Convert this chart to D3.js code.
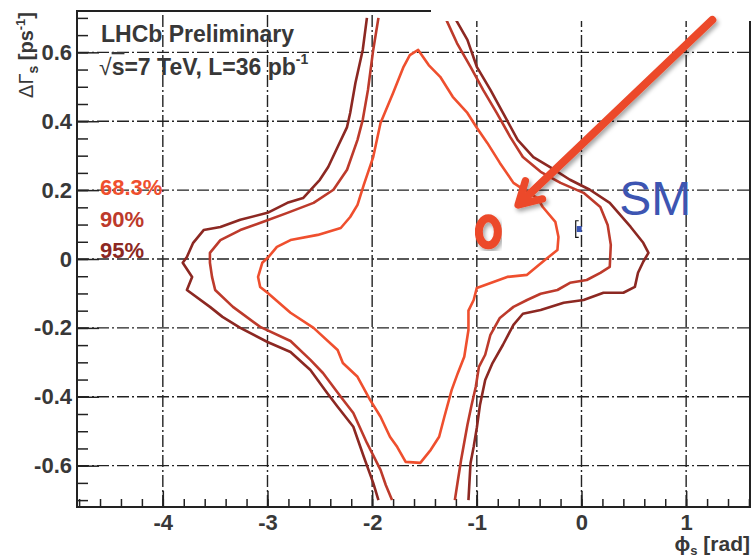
<!doctype html>
<html>
<head>
<meta charset="utf-8">
<script src="https://d3js.org/d3.v7.min.js"></script>
<style>
body { margin: 0; background: #fff; }
text { font-family: "Liberation Sans", Arial, Helvetica, sans-serif; }
</style>
</head>
<body>
<div id="chart"></div>
<script>

var width = 753;
var height = 557;

// axis ticks
var phiTicks = [-4, -3, -2, -1, 0, 1];
var dgTicks = [-0.6, -0.4, -0.2, 0, 0.2, 0.4, 0.6];

// contour levels
var levels = ["68.3%", "90%", "95%"];
var levelColors = ["#ef4f2e", "#bd3a2b", "#8c2822"];

// 68.3% contour (closed)
var c68 = [
  [-1.56, 0.607], [-1.46, 0.563], [-1.35, 0.529], [-1.23, 0.471], [-1.09, 0.424],
  [-1.00, 0.381], [-0.90, 0.337], [-0.78, 0.279], [-0.65, 0.221], [-0.52, 0.195],
  [-0.42, 0.177], [-0.37, 0.151], [-0.25, 0.108], [-0.22, 0.064], [-0.23, 0.026],
  [-0.35, -0.003], [-0.52, -0.046], [-0.71, -0.052], [-1.00, -0.084], [-1.03, -0.119],
  [-1.08, -0.150], [-1.08, -0.206], [-1.12, -0.284], [-1.18, -0.330], [-1.24, -0.380],
  [-1.31, -0.458], [-1.36, -0.516], [-1.44, -0.554], [-1.54, -0.592], [-1.68, -0.589],
  [-1.76, -0.546], [-1.83, -0.516], [-1.92, -0.458], [-2.02, -0.409], [-2.14, -0.342],
  [-2.28, -0.302], [-2.33, -0.264], [-2.56, -0.200], [-2.78, -0.156], [-3.00, -0.098],
  [-3.07, -0.081], [-3.09, -0.052], [-3.05, -0.011], [-2.99, 0.006], [-2.91, 0.035],
  [-2.78, 0.055], [-2.52, 0.070], [-2.30, 0.090], [-2.21, 0.122], [-2.14, 0.157],
  [-2.08, 0.215], [-1.99, 0.296], [-1.92, 0.395], [-1.80, 0.482], [-1.70, 0.558],
  [-1.64, 0.592]
];

// 90% contour, two open branches
var c90Left = [
  [-1.94, 0.70], [-1.99, 0.607], [-2.04, 0.491], [-2.09, 0.404], [-2.14, 0.346],
  [-2.24, 0.259], [-2.37, 0.201], [-2.56, 0.163], [-2.81, 0.134], [-3.04, 0.108],
  [-3.26, 0.084], [-3.45, 0.055], [-3.55, 0.018], [-3.55, -0.011], [-3.53, -0.052],
  [-3.50, -0.090], [-3.33, -0.139], [-3.07, -0.197], [-2.78, -0.238], [-2.59, -0.293],
  [-2.47, -0.331], [-2.30, -0.400], [-2.18, -0.447], [-2.05, -0.534], [-1.92, -0.612],
  [-1.87, -0.656], [-1.81, -0.70]
];
var c90Right = [
  [-1.30, 0.70], [-1.19, 0.627], [-1.06, 0.558], [-0.94, 0.491], [-0.81, 0.424],
  [-0.68, 0.354], [-0.56, 0.296], [-0.39, 0.253], [-0.20, 0.221], [0.02, 0.192],
  [0.18, 0.151], [0.25, 0.099], [0.28, 0.041], [0.27, -0.023], [0.18, -0.040],
  [0.05, -0.061], [-0.11, -0.069], [-0.23, -0.090], [-0.39, -0.101], [-0.52, -0.119],
  [-0.65, -0.139], [-0.78, -0.171], [-0.87, -0.220], [-0.92, -0.278], [-0.98, -0.313],
  [-1.01, -0.371], [-1.05, -0.424], [-1.09, -0.482], [-1.15, -0.583], [-1.18, -0.641],
  [-1.21, -0.70]
];

// 95% contour, two open branches
var c95Left = [
  [-2.05, 0.70], [-2.09, 0.607], [-2.16, 0.511], [-2.21, 0.424], [-2.24, 0.383],
  [-2.33, 0.325], [-2.42, 0.267], [-2.50, 0.230], [-2.66, 0.177], [-2.81, 0.163],
  [-3.00, 0.134], [-3.26, 0.114], [-3.45, 0.093], [-3.61, 0.084], [-3.71, 0.047],
  [-3.77, 0.006], [-3.81, -0.011], [-3.72, -0.052], [-3.77, -0.090], [-3.55, -0.139],
  [-3.43, -0.168], [-3.26, -0.200], [-3.00, -0.241], [-2.78, -0.270], [-2.59, -0.322],
  [-2.43, -0.389], [-2.33, -0.429], [-2.18, -0.487], [-2.08, -0.574], [-1.99, -0.650],
  [-1.94, -0.70]
];
var c95Right = [
  [-1.21, 0.70], [-1.09, 0.636], [-1.00, 0.558], [-0.87, 0.491], [-0.75, 0.424],
  [-0.61, 0.346], [-0.46, 0.296], [-0.30, 0.267], [-0.11, 0.230], [0.08, 0.201],
  [0.27, 0.163], [0.47, 0.093], [0.59, 0.047], [0.64, 0.018], [0.59, -0.008],
  [0.54, -0.040], [0.51, -0.081], [0.40, -0.098], [0.21, -0.098], [0.02, -0.119],
  [-0.17, -0.127], [-0.39, -0.148], [-0.56, -0.159], [-0.65, -0.191], [-0.75, -0.249],
  [-0.85, -0.302], [-0.92, -0.351], [-0.97, -0.424], [-1.00, -0.490], [-1.03, -0.545],
  [-1.06, -0.592], [-1.08, -0.70]
];

// Standard Model point and its error
var smPoint = [-0.036, 0.087];
var smErr = 0.024;

// annotations (data coords)
var smLabelPos = [0.36, 0.128];
var arrowFrom = [1.25, 0.694];
var arrowTo = [-0.605, 0.157];
var ringPos = [-0.89, 0.079];

var x = d3.scaleLinear().domain([-4.82, 1.61]).range([77, 750]);
var y = d3.scaleLinear().domain([-0.72, 0.72]).range([507, 11]);

var svg = d3.select("#chart").append("svg")
    .attr("width", width)
    .attr("height", height);

var defs = svg.append("defs");
defs.append("clipPath").attr("id", "plotClip")
  .append("rect")
    .attr("x", x.range()[0]).attr("y", y.range()[1])
    .attr("width", x.range()[1] - x.range()[0])
    .attr("height", y.range()[0] - y.range()[1]);
defs.append("filter").attr("id", "shadow")
    .attr("x", "-20%").attr("y", "-20%").attr("width", "140%").attr("height", "140%")
  .append("feDropShadow")
    .attr("dx", 2).attr("dy", 3).attr("stdDeviation", 2)
    .attr("flood-color", "#000").attr("flood-opacity", 0.35);

var ink = "#222";
var textInk = "#383838";

//grid, dash-dot
var grid = svg.append("g")
    .attr("stroke", ink)
    .attr("stroke-width", 1.4)
    .attr("stroke-dasharray", "12,3,2,3");
grid.selectAll("line.v").data(phiTicks).enter().append("line")
    .attr("x1", d => x(d)).attr("x2", d => x(d))
    .attr("y1", y.range()[0]).attr("y2", y.range()[1]);
grid.selectAll("line.h").data(dgTicks).enter().append("line")
    .attr("x1", x.range()[0]).attr("x2", x.range()[1])
    .attr("y1", d => y(d)).attr("y2", d => y(d));

function styleAxis(g) {
    g.select(".domain").remove();
    g.selectAll(".tick line").attr("stroke", ink).attr("stroke-width", 1.5);
    g.selectAll(".tick text")
        .attr("fill", textInk)
        .attr("font-size", 22)
        .attr("font-weight", "bold")
        .attr("font-family", "'Liberation Sans', Arial, sans-serif");
}

var fmt = function(d) { return String(+d.toFixed(1)); };

//y ticks (inside, pointing right) and labels
svg.append("g").attr("transform", "translate(" + x.range()[0] + ",0)")
    .call(d3.axisRight(y).tickValues(d3.range(-14, 15).map(i => i * 0.05)).tickSize(11).tickFormat(""))
    .call(styleAxis);
svg.append("g").attr("transform", "translate(" + x.range()[0] + ",0)")
    .call(d3.axisRight(y).tickValues(dgTicks).tickSize(22).tickFormat(""))
    .call(styleAxis);
svg.append("g").attr("transform", "translate(" + x.range()[0] + ",0)")
    .call(d3.axisLeft(y).tickValues(dgTicks).tickSize(0).tickPadding(5).tickFormat(fmt))
    .call(styleAxis);

//x ticks (inside, pointing up) and labels
svg.append("g").attr("transform", "translate(0," + y.range()[0] + ")")
    .call(d3.axisTop(x).tickValues(d3.range(-24, 9).map(i => i * 0.2)).tickSize(8).tickFormat(""))
    .call(styleAxis);
svg.append("g").attr("transform", "translate(0," + y.range()[0] + ")")
    .call(d3.axisTop(x).tickValues(phiTicks).tickSize(16).tickFormat(""))
    .call(styleAxis);
svg.append("g").attr("transform", "translate(0," + y.range()[0] + ")")
    .call(d3.axisBottom(x).tickValues(phiTicks).tickSize(0).tickPadding(7).tickFormat(fmt))
    .call(styleAxis);

//contours
var line = d3.line().x(d => x(d[0])).y(d => y(d[1]));
var contours = svg.append("g").attr("clip-path", "url(#plotClip)")
    .attr("fill", "none")
    .attr("stroke-width", 2.6)
    .attr("stroke-linejoin", "round");

contours.append("path").attr("d", line(c95Left)).attr("stroke", levelColors[2]);
contours.append("path").attr("d", line(c95Right)).attr("stroke", levelColors[2]);
contours.append("path").attr("d", line(c90Left)).attr("stroke", levelColors[1]);
contours.append("path").attr("d", line(c90Right)).attr("stroke", levelColors[1]);
contours.append("path").attr("d", line(c68) + "Z").attr("stroke", levelColors[0]);

//frame
svg.append("rect")
    .attr("x", x.range()[0]).attr("y", y.range()[1])
    .attr("width", x.range()[1] - x.range()[0])
    .attr("height", y.range()[0] - y.range()[1])
    .attr("fill", "none").attr("stroke", ink).attr("stroke-width", 2);

//the picture is cut off at the top right
svg.append("rect")
    .attr("x", 431).attr("y", 0).attr("width", width - 431).attr("height", 21)
    .attr("fill", "#fff");

//axis titles
var yTitle = svg.append("text")
    .attr("transform", "translate(33,12) rotate(-90)")
    .attr("text-anchor", "end")
    .attr("font-size", 20).attr("font-weight", "bold").attr("fill", textInk);
yTitle.append("tspan").text("ΔΓ").attr("font-weight", "normal");
yTitle.append("tspan").text("s").attr("font-size", 14).attr("dy", 5);
yTitle.append("tspan").text(" [ps").attr("dy", -5);
yTitle.append("tspan").text("-1").attr("font-size", 13).attr("dy", -8);
yTitle.append("tspan").text("]").attr("dy", 8);

var xTitle = svg.append("text")
    .attr("x", 750).attr("y", 551)
    .attr("text-anchor", "end")
    .attr("font-size", 21).attr("font-weight", "bold").attr("fill", textInk);
xTitle.append("tspan").text("ϕ");
xTitle.append("tspan").text("s").attr("font-size", 13).attr("dy", 4);
xTitle.append("tspan").text(" [rad]").attr("dy", -4);

//header text
svg.append("text")
    .attr("x", 101).attr("y", 42)
    .attr("font-size", 23).attr("font-weight", "bold").attr("fill", textInk)
    .text("LHCb Preliminary");

var t2 = svg.append("text")
    .attr("x", 99).attr("y", 75)
    .attr("font-size", 23).attr("font-weight", "bold").attr("fill", textInk);
t2.append("tspan").text("√").attr("font-weight", "normal");
t2.append("tspan").text("s").style("text-decoration", "overline");
t2.append("tspan").text("=7 TeV, L=36 pb");
t2.append("tspan").text("-1").attr("font-size", 14).attr("dy", -11);

//legend
svg.selectAll("text.level").data(levels).enter().append("text")
    .attr("x", 100)
    .attr("y", (d, i) => 195 + i * 31.5)
    .attr("font-size", 22).attr("font-weight", "bold")
    .attr("fill", (d, i) => levelColors[i])
    .text(d => d);

//SM point
var smX = x(smPoint[0]), smY = y(smPoint[1]);
var smTop = y(smPoint[1] + smErr), smBot = y(smPoint[1] - smErr);
svg.append("path")
    .attr("d", "M" + (smX + 1) + "," + smTop + "H" + (smX - 2) + "V" + smBot + "H" + (smX + 1))
    .attr("fill", "none").attr("stroke", "#111").attr("stroke-width", 1.2);
svg.append("rect")
    .attr("x", smX - 1).attr("y", smY - 3).attr("width", 5).attr("height", 6)
    .attr("fill", "#3a55b4");
svg.append("text")
    .attr("x", x(smLabelPos[0])).attr("y", y(smLabelPos[1]))
    .attr("font-size", 48).attr("fill", "#3d55b2")
    .text("SM");

//arrow
var ax1 = x(arrowFrom[0]), ay1 = y(arrowFrom[1]);
var ax2 = x(arrowTo[0]), ay2 = y(arrowTo[1]);
var back = Math.atan2(ay1 - ay2, ax1 - ax2);
var wing = 25, spread = 0.52;
var arrowColor = "#ec4a2b";
var arrow = svg.append("g").attr("filter", "url(#shadow)")
    .attr("stroke", arrowColor).attr("fill", "none")
    .attr("stroke-linecap", "round").attr("stroke-linejoin", "round");
arrow.append("line")
    .attr("x1", ax1).attr("y1", ay1).attr("x2", ax2 + 3 * Math.cos(back)).attr("y2", ay2 + 3 * Math.sin(back))
    .attr("stroke-width", 8);
arrow.append("path")
    .attr("d", "M" + (ax2 + wing * Math.cos(back - spread)) + "," + (ay2 + wing * Math.sin(back - spread)) +
               "L" + ax2 + "," + ay2 +
               "L" + (ax2 + wing * Math.cos(back + spread)) + "," + (ay2 + wing * Math.sin(back + spread)))
    .attr("stroke-width", 7.5);

//ring
svg.append("ellipse")
    .attr("cx", x(ringPos[0])).attr("cy", y(ringPos[1]))
    .attr("rx", 9.5).attr("ry", 13.5)
    .attr("fill", "none").attr("stroke", arrowColor).attr("stroke-width", 8)
    .attr("filter", "url(#shadow)");

</script>
</body>
</html>
